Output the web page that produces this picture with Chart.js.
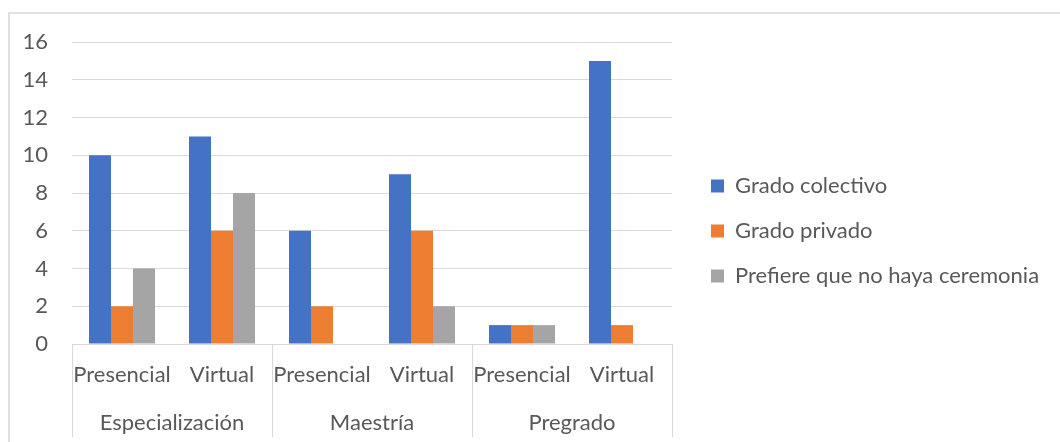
<!DOCTYPE html>
<html>
<head>
<meta charset="utf-8">
<script src="https://cdn.jsdelivr.net/npm/chart.js@4/dist/chart.umd.min.js"></script>
<style>
  html, body { margin: 0; padding: 0; background: #fff; overflow: hidden; }
  #frame { position: absolute; left: 8px; top: 12px; width: 1100px; height: 500px; border: 2px solid #e0e0e0; }
  #c { position: absolute; left: 0; top: 0; }
</style>
</head>
<body>
<div id="frame"></div>
<canvas id="c" width="1060" height="442"></canvas>
<script>
const subCategories = ['Presencial', 'Virtual', 'Presencial', 'Virtual', 'Presencial', 'Virtual'];
const groups = ['Especialización', 'Maestría', 'Pregrado'];
const gradoColectivo = [10, 11, 6, 9, 1, 15];
const gradoPrivado = [2, 6, 2, 6, 1, 1];
const sinCeremonia = [4, 8, 0, 2, 1, 0];
const seriesNames = ['Grado colectivo', 'Grado privado', 'Prefiere que no haya ceremonia'];

const FONT = 'Lato, "Open Sans", sans-serif';
const FS = 22;
const textColor = '#595959';
const gridColor = '#d9d9d9';

// legend size, so the plot ends where the reference plot ends
const mctx = document.createElement('canvas').getContext('2d');
mctx.font = FS + 'px ' + FONT;
const longest = Math.max(...seriesNames.map(s => mctx.measureText(s).width));
const legendPad = 23;
const legendGap = 16;
const legendW = legendPad + 13 + FS / 2 + longest + 10;
const padRight = Math.max(0, 1060 - 672 - legendGap - legendW);

// empty spacer axis of fixed size
const spacer = (position, size) => ({
  type: 'linear',
  position: position,
  grid: { display: false, drawTicks: false },
  border: { display: false },
  ticks: { display: false },
  afterFit: s => { if (s.isHorizontal()) s.height = size; else s.width = size; }
});

// vertical lines between the groups, running through both label rows
const groupLines = {
  id: 'groupLines',
  afterDraw(chart) {
    const xs = chart.scales.x;
    const half = (xs.getPixelForValue(1) - xs.getPixelForValue(0)) / 2;
    const per = subCategories.length / groups.length;
    const ctx = chart.ctx;
    ctx.save();
    ctx.strokeStyle = gridColor;
    ctx.lineWidth = 1;
    for (let k = 0; k <= groups.length; k++) {
      const x = Math.round(xs.getPixelForValue(k * per) - half) + 0.5;
      ctx.beginPath();
      ctx.moveTo(x, xs.top);
      ctx.lineTo(x, chart.scales.x2.bottom + 1);
      ctx.stroke();
    }
    ctx.restore();
  }
};

new Chart(document.getElementById('c'), {
  type: 'bar',
  data: {
    labels: subCategories,
    datasets: [
      { label: seriesNames[0], data: gradoColectivo, backgroundColor: '#4472C4' },
      { label: seriesNames[1], data: gradoPrivado, backgroundColor: '#ED7D31' },
      { label: seriesNames[2], data: sinCeremonia, backgroundColor: '#A5A5A5' }
    ]
  },
  options: {
    responsive: false,
    animation: false,
    devicePixelRatio: 1,
    categoryPercentage: 0.66,
    barPercentage: 1,
    layout: { padding: { top: 26, right: padRight, bottom: 6, left: 0 } },
    font: { family: FONT, size: FS },
    color: textColor,
    plugins: {
      tooltip: { enabled: false },
      legend: {
        position: 'right',
        maxWidth: 600,
        labels: {
          boxWidth: 13,
          boxHeight: 13,
          padding: legendPad,
          color: textColor,
          font: { family: FONT, size: FS }
        }
      }
    },
    scales: {
      x: {
        grid: { display: false, drawTicks: false },
        border: { display: false },
        ticks: { color: textColor, font: { family: FONT, size: FS }, padding: 18, autoSkip: false, maxRotation: 0, minRotation: 0 },
        afterFit: s => { s.height = 44; }
      },
      x2: {
        type: 'category',
        position: 'bottom',
        labels: groups,
        offset: true,
        grid: { display: false, drawTicks: false },
        border: { display: false },
        ticks: { color: textColor, font: { family: FONT, size: FS }, padding: 22, autoSkip: false, maxRotation: 0, minRotation: 0 },
        afterFit: s => { s.height = 48; }
      },
      y: {
        min: 0,
        max: 16,
        ticks: { stepSize: 2, color: textColor, font: { family: FONT, size: FS }, padding: 24 },
        grid: { color: gridColor, lineWidth: 1, drawTicks: false },
        border: { display: false },
        afterFit: s => { s.width = 72; }
      },
      gapTop: spacer('top', 16),
      gapRight: spacer('right', legendGap)
    }
  },
  plugins: [groupLines]
});
</script>
</body>
</html>
